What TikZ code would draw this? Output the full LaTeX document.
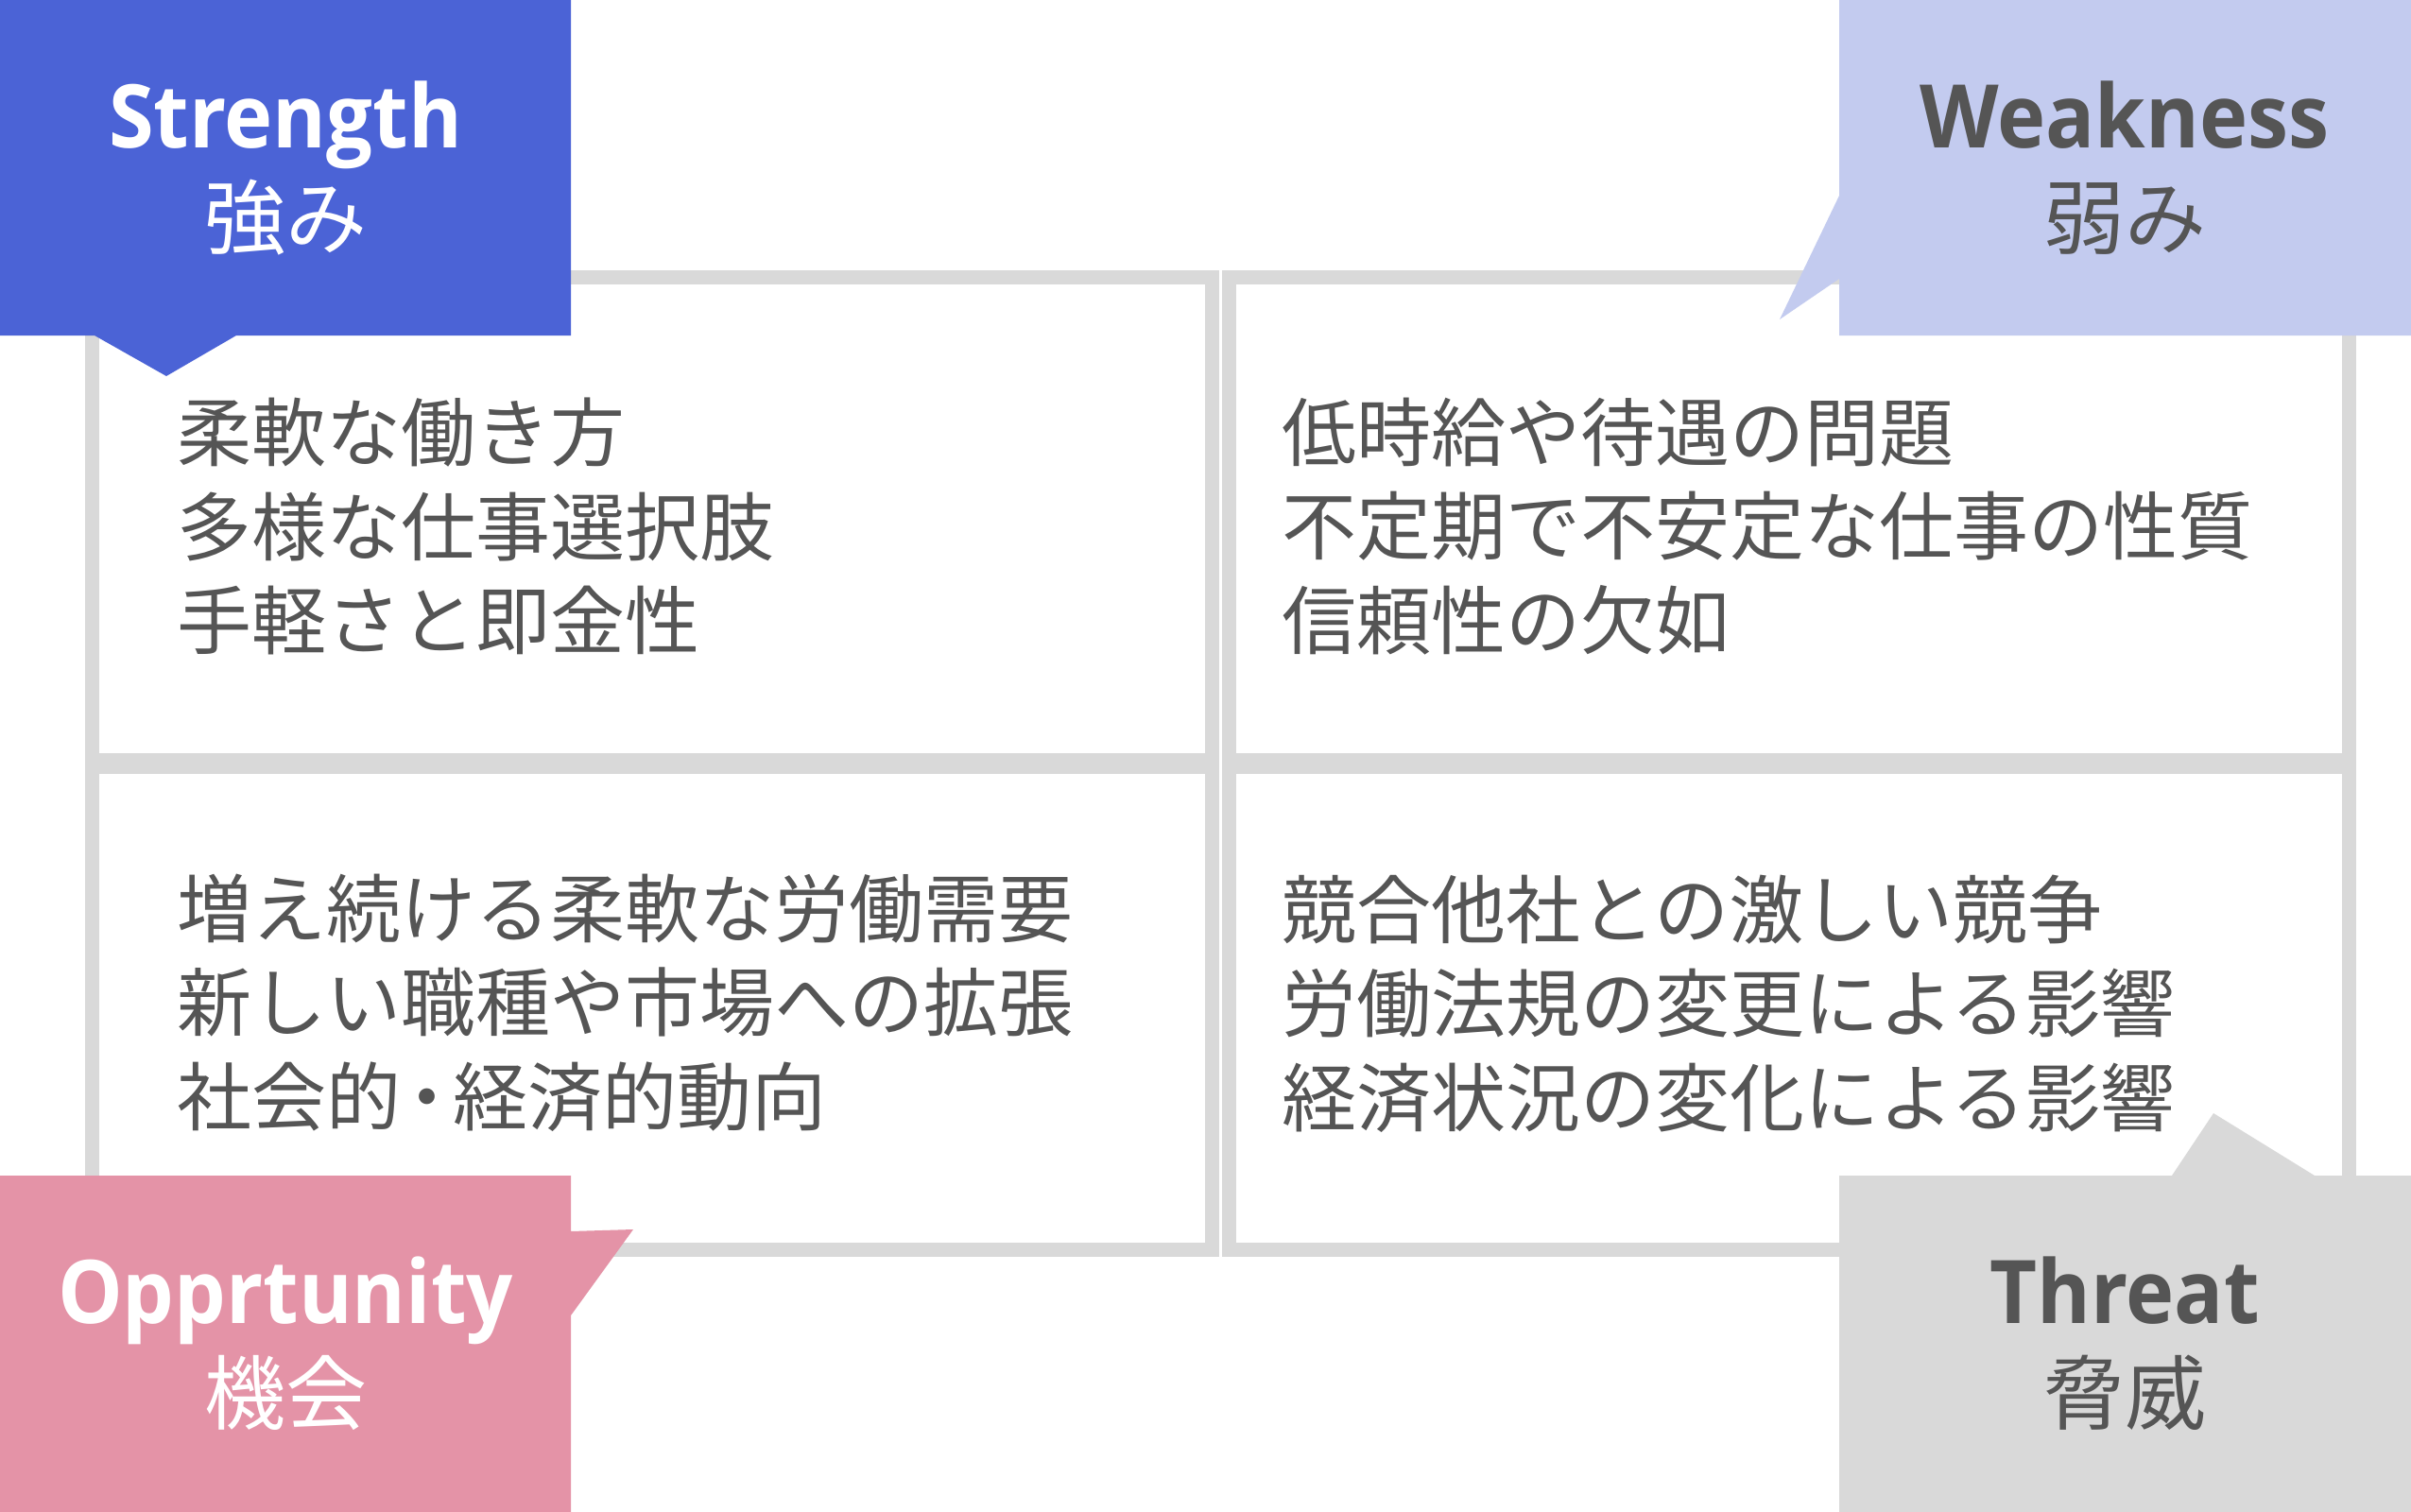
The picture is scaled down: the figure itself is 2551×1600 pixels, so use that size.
\documentclass[tikz,border=0pt]{standalone}
\usepackage{fontspec}
\newfontfamily\jp{Noto Sans CJK JP}
\newfontfamily\titlefont[FakeStretch=0.93]{Open Sans}
\definecolor{sblue}{HTML}{4B63D6}
\definecolor{wlav}{HTML}{C3CBEF}
\definecolor{opink}{HTML}{E493A7}
\definecolor{tgray}{HTML}{D9D9D9}
\definecolor{gridgray}{HTML}{D9D9D9}
\definecolor{txtgray}{HTML}{555555}
\begin{document}
\begin{tikzpicture}[x=1pt,y=-1pt,
  gridbox/.style={draw=gridgray, line width=15pt, minimum width=1185pt, minimum height=511pt, inner sep=0pt, outer sep=0pt},
  body/.style={font=\jp\fontsize{79}{99.5}\selectfont, text=txtgray, align=left, anchor=west, inner sep=0pt},
  entitle/.style={font=\titlefont\bfseries\fontsize{93}{93}\selectfont, anchor=base, inner sep=0pt},
  jptitle/.style={font=\jp\fontsize{86}{86}\selectfont, anchor=base, inner sep=0pt}]
\useasboundingbox (0,0) rectangle (2551,1600);
\fill[white] (0,0) rectangle (2551,1600);
% grid boxes
\node[gridbox] (tl) at (690,549) {};
\node[gridbox] (tr) at (1893,549) {};
\node[gridbox] (bl) at (690,1067) {};
\node[gridbox] (br) at (1893,1067) {};
% callouts
\fill[sblue] (0,0) -- (604,0) -- (604,355) -- (250,355) -- (176,398) -- (100,355) -- (0,355) -- cycle;
\fill[wlav] (1946,0) -- (2551,0) -- (2551,355) -- (1946,355) -- (1946,295) -- (1883,338) -- (1946,207) -- cycle;
\fill[opink] (0,1244) -- (604,1244) -- (604,1303) -- (670,1301) -- (604,1392) -- (604,1600) -- (0,1600) -- cycle;
\fill[tgray] (1946,1244) -- (2298,1244) -- (2342,1178) -- (2449,1244) -- (2551,1244) -- (2551,1600) -- (1946,1600) -- cycle;
% titles
\node[entitle, text=white] (sen) at (302,157) {Strength};
\node[jptitle, text=white] (sjp) at (302,262) {強み};
\node[entitle, text=txtgray] (wen) at (2248,157) {Weakness};
\node[jptitle, text=txtgray] (wjp) at (2248,262) {弱み};
\node[entitle, text=white] (oen) at (302,1400) {Opprtunity};
\node[jptitle, text=white] (ojp) at (302,1506) {機会};
\node[entitle, text=txtgray] (ten) at (2248,1400) {Threat};
\node[jptitle, text=txtgray] (tjp) at (2248,1506) {脅威};
% body texts
\node[body] (stext) at (187,557) {柔軟な働き方\\多様な仕事選択肢\\手軽さと即金性};
\node[body] (wtext) at (1356,557) {低時給や待遇の問題\\不定期で不安定な仕事の性質\\信頼性の欠如};
\node[body] (otext) at (187,1061) {増え続ける柔軟な労働需要\\新しい職種や市場への拡張\\社会的\kern-0.15em・\kern-0.15em 経済的動向};
\node[body] (ttext) at (1356,1062) {競合他社との激しい競争\\労働法規の変更による影響\\経済状況の変化による影響};
\end{tikzpicture}
\end{document}
